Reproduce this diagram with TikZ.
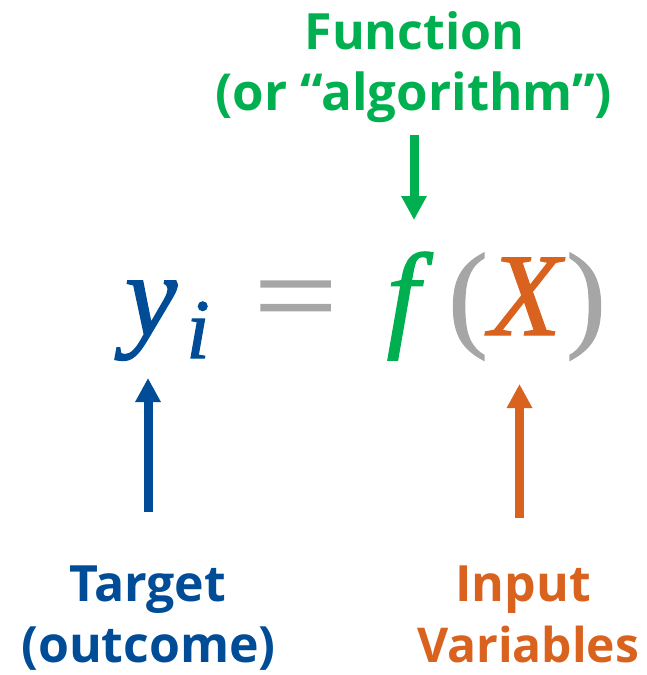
\documentclass[tikz,border=0pt]{standalone}
\usepackage{fontspec}
\setmainfont{Open Sans}
\newfontfamily\eqfont[FakeBold=1.2]{Liberation Serif}
\usetikzlibrary{arrows.meta}
\definecolor{cblue}{RGB}{0,76,151}
\definecolor{cgreen}{RGB}{0,176,80}
\definecolor{corange}{RGB}{217,98,30}
\definecolor{cgray}{RGB}{166,166,166}
\tikzset{
  lbl/.style={inner sep=0pt, anchor=base, font=\fontsize{50}{61}\selectfont\bfseries},
  eq/.style={inner sep=0pt, anchor=base, font=\eqfont\fontsize{118}{118}\selectfont},
  eqsub/.style={inner sep=0pt, anchor=base, font=\eqfont\fontsize{85}{85}\selectfont},
  pointer/.style={line width=9pt, -{Triangle[width=24pt,length=24pt]}}
}
\begin{document}
\begin{tikzpicture}[x=1pt,y=1pt]
\useasboundingbox (0,-675) rectangle (646,0);
% labels
\node[lbl, text=cgreen] (fun1) at (414.5,-49) {Function};
\node[lbl, text=cgreen] (fun2) at (414,-110) {\fontsize{51}{61}\selectfont(or “algorithm”)};
\node[lbl, text=cblue] (tar1) at (147.5,-601) {Target};
\node[lbl, text=cblue] (tar2) at (148.5,-662) {(outcome)};
\node[lbl, text=corange] (inp1) at (523,-601) {Input};
\node[lbl, text=corange] (inp2) at (528,-662) {\fontsize{48}{61}\selectfont Variables};
% equation
\node[eq, text=cblue] (y) at (151,-335) {\itshape y};
\node[eqsub, text=cblue] (i) at (198,-358) {\itshape i};
\node[eq, text=cgray] (eqs) at (295.5,-335) {\scalebox{1.25}[1]{=}};
\node[eq, text=cgreen] (f) at (403,-335) {\itshape f};
\node[eq, text=cgray] (lp) at (468,-335) {(};
\node[eq, text=corange] (X) at (525,-335) {\itshape X};
\node[eq, text=cgray] (rp) at (586,-335) {)};
% arrow anchors
\coordinate (gtop) at (414,-135);
\coordinate (gtip) at (414,-220);
\coordinate (btail) at (148,-512);
\coordinate (btip) at (148,-378);
\coordinate (otail) at (519.5,-518);
\coordinate (otip) at (519.5,-384);
\draw[pointer, cgreen] (gtop) -- (gtip);
\draw[pointer, cblue] (btail) -- (btip);
\draw[pointer, corange] (otail) -- (otip);
\end{tikzpicture}
\end{document}
